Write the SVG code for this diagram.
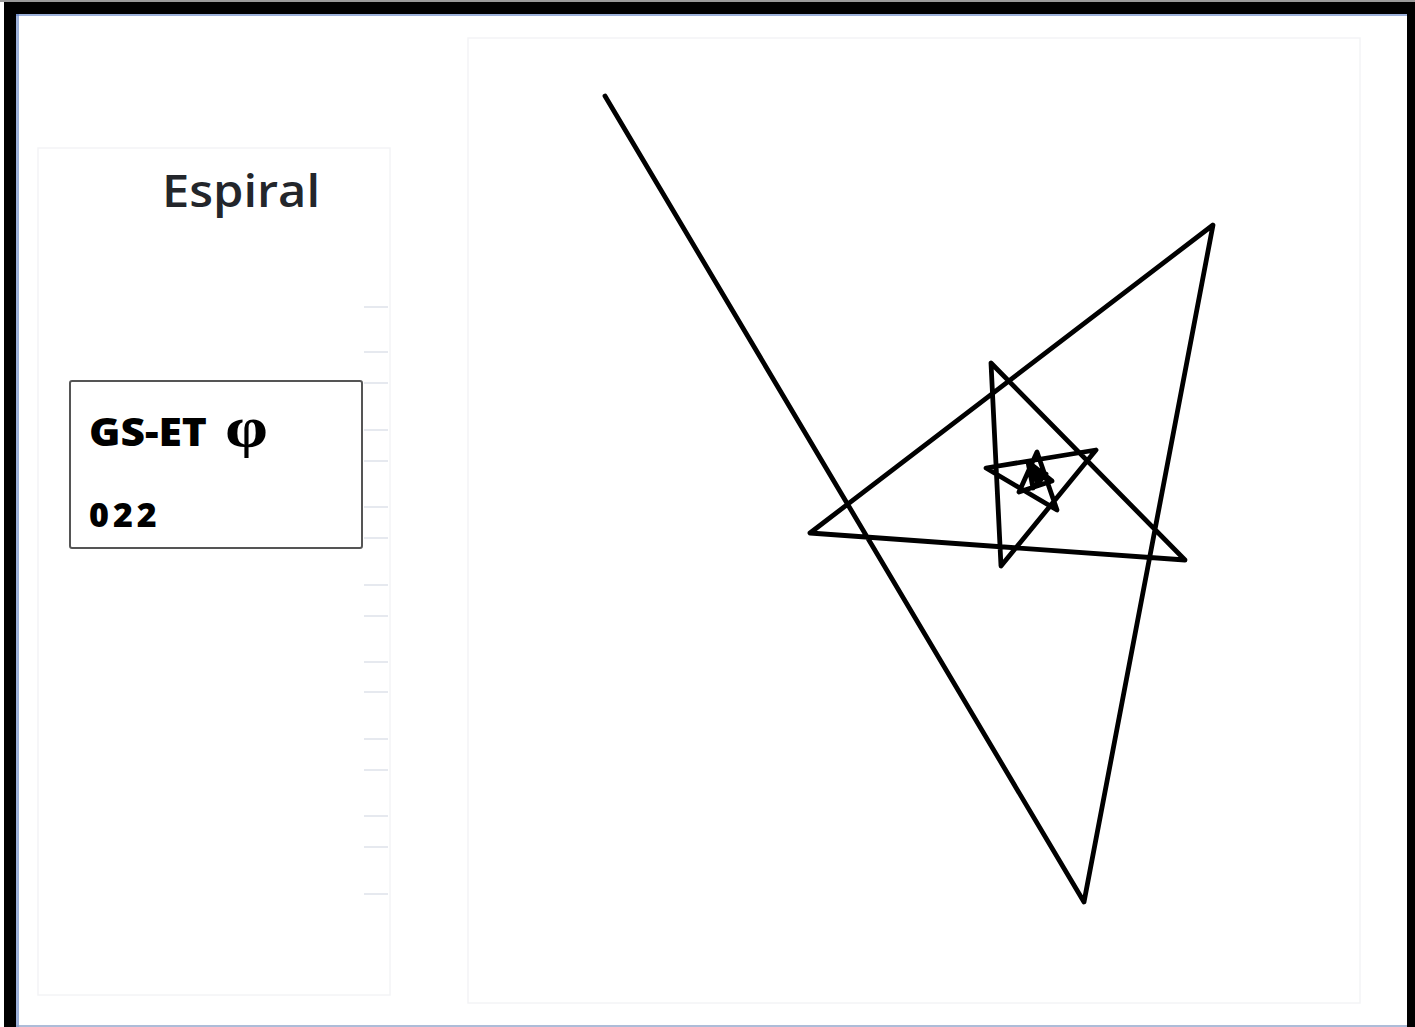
<svg xmlns="http://www.w3.org/2000/svg" width="1415" height="1027" viewBox="0 0 1415 1027">
<style>
.panel{fill:none;stroke:#f3f4f6;stroke-width:1.5}
.tick{stroke:#e6e9ef;stroke-width:2}
.spiral{fill:none;stroke:#000;stroke-width:4.8;stroke-linejoin:round;stroke-linecap:round}
.title{font-family:"Open Sans","Liberation Sans",sans-serif;font-size:46px;font-weight:600;fill:#23262b}
.lbl{font-family:"Open Sans","Liberation Sans",sans-serif;font-weight:800;fill:#000}
</style>
<rect x="0" y="0" width="1415" height="1027" fill="#fff"/>
<g id="frame">
<rect x="0" y="0" width="1415" height="2" fill="#9a9a9a"/>
<rect x="4" y="2" width="1411" height="12" fill="#000"/>
<rect x="4" y="2" width="12" height="1025" fill="#000"/>
<rect x="1407" y="2" width="8" height="1025" fill="#000"/>
<rect x="16" y="14" width="1391" height="2" fill="#5a7cc0" opacity="0.6"/>
<rect x="16" y="14" width="3" height="1013" fill="#5a7cc0" opacity="0.6"/>
<rect x="16" y="1025" width="1391" height="2" fill="#8aa0c8" opacity="0.7"/>
</g>
<g id="panels">
<rect class="panel" x="38" y="148" width="352" height="847"/>
<rect class="panel" x="468" y="38" width="892" height="965"/>
</g>
<g id="ticks">
<line class="tick" x1="364" y1="307" x2="388" y2="307"/>
<line class="tick" x1="364" y1="352" x2="388" y2="352"/>
<line class="tick" x1="364" y1="383" x2="388" y2="383"/>
<line class="tick" x1="364" y1="430" x2="388" y2="430"/>
<line class="tick" x1="364" y1="461" x2="388" y2="461"/>
<line class="tick" x1="364" y1="507" x2="388" y2="507"/>
<line class="tick" x1="364" y1="538" x2="388" y2="538"/>
<line class="tick" x1="364" y1="585" x2="388" y2="585"/>
<line class="tick" x1="364" y1="616" x2="388" y2="616"/>
<line class="tick" x1="364" y1="662" x2="388" y2="662"/>
<line class="tick" x1="364" y1="692" x2="388" y2="692"/>
<line class="tick" x1="364" y1="739" x2="388" y2="739"/>
<line class="tick" x1="364" y1="770" x2="388" y2="770"/>
<line class="tick" x1="364" y1="816" x2="388" y2="816"/>
<line class="tick" x1="364" y1="847" x2="388" y2="847"/>
<line class="tick" x1="364" y1="894" x2="388" y2="894"/>
</g>
<g id="title">
<text class="title" x="162" y="207" textLength="158" lengthAdjust="spacingAndGlyphs">Espiral</text>
</g>
<g id="label-box">
<rect x="70" y="381" width="292" height="167" rx="2" fill="#fff" stroke="#555" stroke-width="2"/>
<text class="lbl" x="89" y="446" font-size="39"><tspan textLength="118" lengthAdjust="spacingAndGlyphs">GS-ET</tspan><tspan x="225" font-family="'Liberation Serif','DejaVu Serif',serif" font-weight="bold" font-size="56" textLength="43" lengthAdjust="spacingAndGlyphs">φ</tspan></text>
<text class="lbl" x="89" y="527" font-size="34" letter-spacing="4">022</text>
</g>
<g id="connectors">
<polyline class="spiral" points="605,96 1084,902 1213,225 810,533 1185,560 991,363 1001,566 1096,450 986,468 1057,510 1037,452 1019,492 1052,481 1028,462 1033,488 1046,474 1032,470 1038,484 1042,472 1036,476"/>
</g>
</svg>
